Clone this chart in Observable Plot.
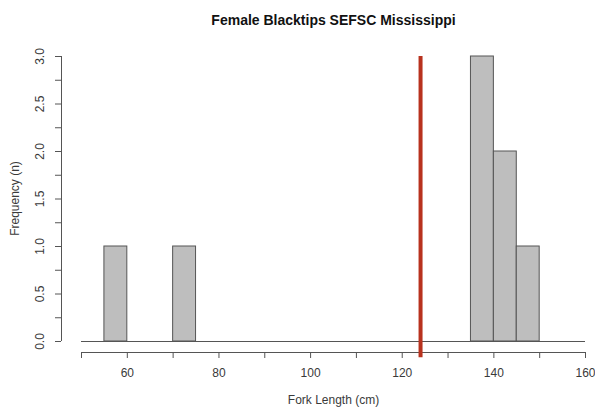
<!DOCTYPE html>
<html>
<head>
<meta charset="utf-8">
<script src="https://cdn.jsdelivr.net/npm/d3@7"></script>
<script src="https://cdn.jsdelivr.net/npm/@observablehq/plot@0.6"></script>
<style>
  body { margin: 0; background: #fff; }
  #chart svg { font-family: "Liberation Sans", Arial, sans-serif; }
</style>
</head>
<body>
<div id="chart"></div>
<script>
// Data
const binStart = [55, 70, 135, 140, 145];
const binEnd   = [60, 75, 140, 145, 150];
const counts   = [1, 1, 3, 2, 1];
const markerLength = 124; // red reference line (cm)
const xTicks = [50, 60, 70, 80, 90, 100, 110, 120, 130, 140, 150, 160];
const xLabels = [60, 80, 100, 120, 140, 160];
const yTicks = [0, 0.25, 0.5, 0.75, 1, 1.25, 1.5, 1.75, 2, 2.25, 2.5, 2.75, 3];
const yLabels = [0, 0.5, 1, 1.5, 2, 2.5, 3];
const title = "Female Blacktips SEFSC Mississippi";
const xTitle = "Fork Length (cm)";
const yTitle = "Frequency (n)";

const bars = binStart.map((s, i) => ({x1: s, x2: binEnd[i], n: counts[i]}));
const xDomain = [50, 160];
const xMid = (xDomain[0] + xDomain[1]) / 2;
const axisColor = "#555";
const textColor = "#3a3a3a";

const chart = Plot.plot({
  width: 595,
  height: 415,
  marginTop: 44,
  marginBottom: 63,
  marginLeft: 61,
  marginRight: -10,
  style: {fontSize: "12px", color: textColor, background: "#fff"},
  x: {domain: xDomain, range: [81, 585]},
  y: {domain: [0, 3], range: [341, 56]},
  marks: [
    Plot.rectY(bars, {x1: "x1", x2: "x2", y: "n", fill: "#bebebe", stroke: "#555", strokeWidth: 1}),
    Plot.ruleY([0], {x1: xDomain[0], x2: xDomain[1], stroke: axisColor, strokeWidth: 1}),
    // x axis line and ticks
    Plot.ruleY([0], {x1: xDomain[0], x2: xDomain[1], dy: 11, stroke: axisColor, strokeWidth: 1}),
    Plot.axisX({ticks: xTicks, tickSize: 6, tickFormat: () => "", stroke: axisColor, label: null}),
    Plot.text(xLabels, {x: d => d, text: d => String(d), frameAnchor: "bottom", dy: 21, lineAnchor: "middle", fill: textColor, fontSize: 12}),
    // y axis line and ticks
    Plot.ruleX([xDomain[0]], {y1: 0, y2: 3, dx: -20, stroke: axisColor, strokeWidth: 1}),
    Plot.axisY({ticks: yTicks, tickSize: 6, tickFormat: () => "", stroke: axisColor, label: null}),
    Plot.text(yLabels, {y: d => d, text: d => d3.format(".1f")(d), frameAnchor: "left", dx: -21, rotate: -90, textAnchor: "middle", lineAnchor: "middle", fill: textColor, fontSize: 12}),
    // red reference line
    Plot.ruleX([markerLength], {y1: -0.17, y2: 3, stroke: "#b8321e", strokeWidth: 4}),
    // titles
    Plot.text([xTitle], {x: xMid, frameAnchor: "bottom", dy: 48, lineAnchor: "middle", fill: textColor, fontSize: 12}),
    Plot.text([yTitle], {frameAnchor: "left", dx: -46, rotate: -90, textAnchor: "middle", lineAnchor: "middle", fill: textColor, fontSize: 12}),
    Plot.text([title], {x: xMid, frameAnchor: "top", dy: -24, lineAnchor: "middle", fill: "#111", fontSize: 14, fontWeight: "bold"})
  ]
});
document.getElementById("chart").appendChild(chart);
</script>
</body>
</html>
